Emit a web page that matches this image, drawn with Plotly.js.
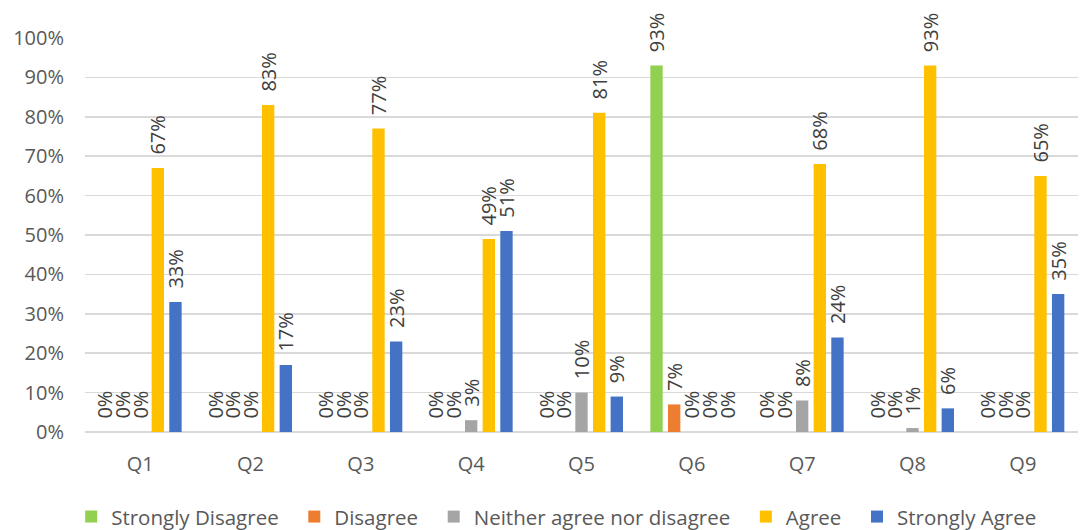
<!DOCTYPE html>
<html><head><meta charset="utf-8">
<script src="https://cdn.plot.ly/plotly-3.0.1.min.js"></script>
<style>body{margin:0;background:#fff}#c{width:1086px;height:530px}</style>
</head><body><div id="c"></div>
<script>
const categories = ["Q1","Q2","Q3","Q4","Q5","Q6","Q7","Q8","Q9"];
const seriesNames = ["Strongly Disagree","Disagree","Neither agree nor disagree","Agree","Strongly Agree"];
const stronglyDisagree = [0,0,0,0,0,0.93,0,0,0];
const disagree         = [0,0,0,0,0,0.07,0,0,0];
const neither          = [0,0,0,0.03,0.10,0,0.08,0.01,0];
const agree            = [0.67,0.83,0.77,0.49,0.81,0,0.68,0.93,0.65];
const stronglyAgree    = [0.33,0.17,0.23,0.51,0.09,0,0.24,0.06,0.35];
const colors = ["#92D050","#ED7D31","#A5A5A5","#FFC000","#4472C4"];
const yTicks = [0,0.1,0.2,0.3,0.4,0.5,0.6,0.7,0.8,0.9,1.0];

const allSeries = [stronglyDisagree, disagree, neither, agree, stronglyAgree];
const traces = allSeries.map((vals, i) => ({
  type: 'bar',
  name: seriesNames[i] + (i < seriesNames.length - 1 ? '\u00a0\u00a0' : ''),
  x: categories,
  y: vals,
  marker: {color: colors[i], line: {width: 0}},
  text: vals.map(v => '\u00a0\u00a0' + Math.round(v*100) + '%'),
  textposition: 'outside',
  textangle: -90,
  constraintext: 'none',
  cliponaxis: false,
  textfont: {family: 'Open Sans, sans-serif', size: 20, color: '#404040'},
  hoverinfo: 'none'
}));

const layout = {
  width: 1086, height: 530,
  margin: {l: 85, r: 8, t: 38, b: 98, autoexpand: false},
  paper_bgcolor: '#fff', plot_bgcolor: '#fff',
  barmode: 'group',
  bargap: 0.2,
  bargroupgap: 0.3,
  showlegend: true,
  legend: {orientation: 'h', x: 0.475, xanchor: 'center',
           yref: 'container', y: 0.025, yanchor: 'middle',
           font: {family: 'Open Sans, sans-serif', size: 20.5, color: '#595959'},
           traceorder: 'normal'},
  xaxis: {
    tickfont: {family: 'Open Sans, sans-serif', size: 20, color: '#595959'},
    showline: false, ticks: '', showgrid: false, zeroline: false,
    ticklabelstandoff: 18, automargin: false
  },
  yaxis: {
    range: [0, 1.0], tickvals: yTicks, tickformat: '.0%',
    tickfont: {family: 'Open Sans, sans-serif', size: 20, color: '#595959'},
    showgrid: true, gridcolor: '#d9d9d9', gridwidth: 1.5,
    zeroline: true, zerolinecolor: '#d9d9d9', zerolinewidth: 1.5,
    showline: false, ticks: '', ticklabelstandoff: 20, automargin: false
  },
  font: {family: 'Open Sans, sans-serif'}
};

Plotly.newPlot('c', traces, layout, {staticPlot: true});
</script></body></html>
